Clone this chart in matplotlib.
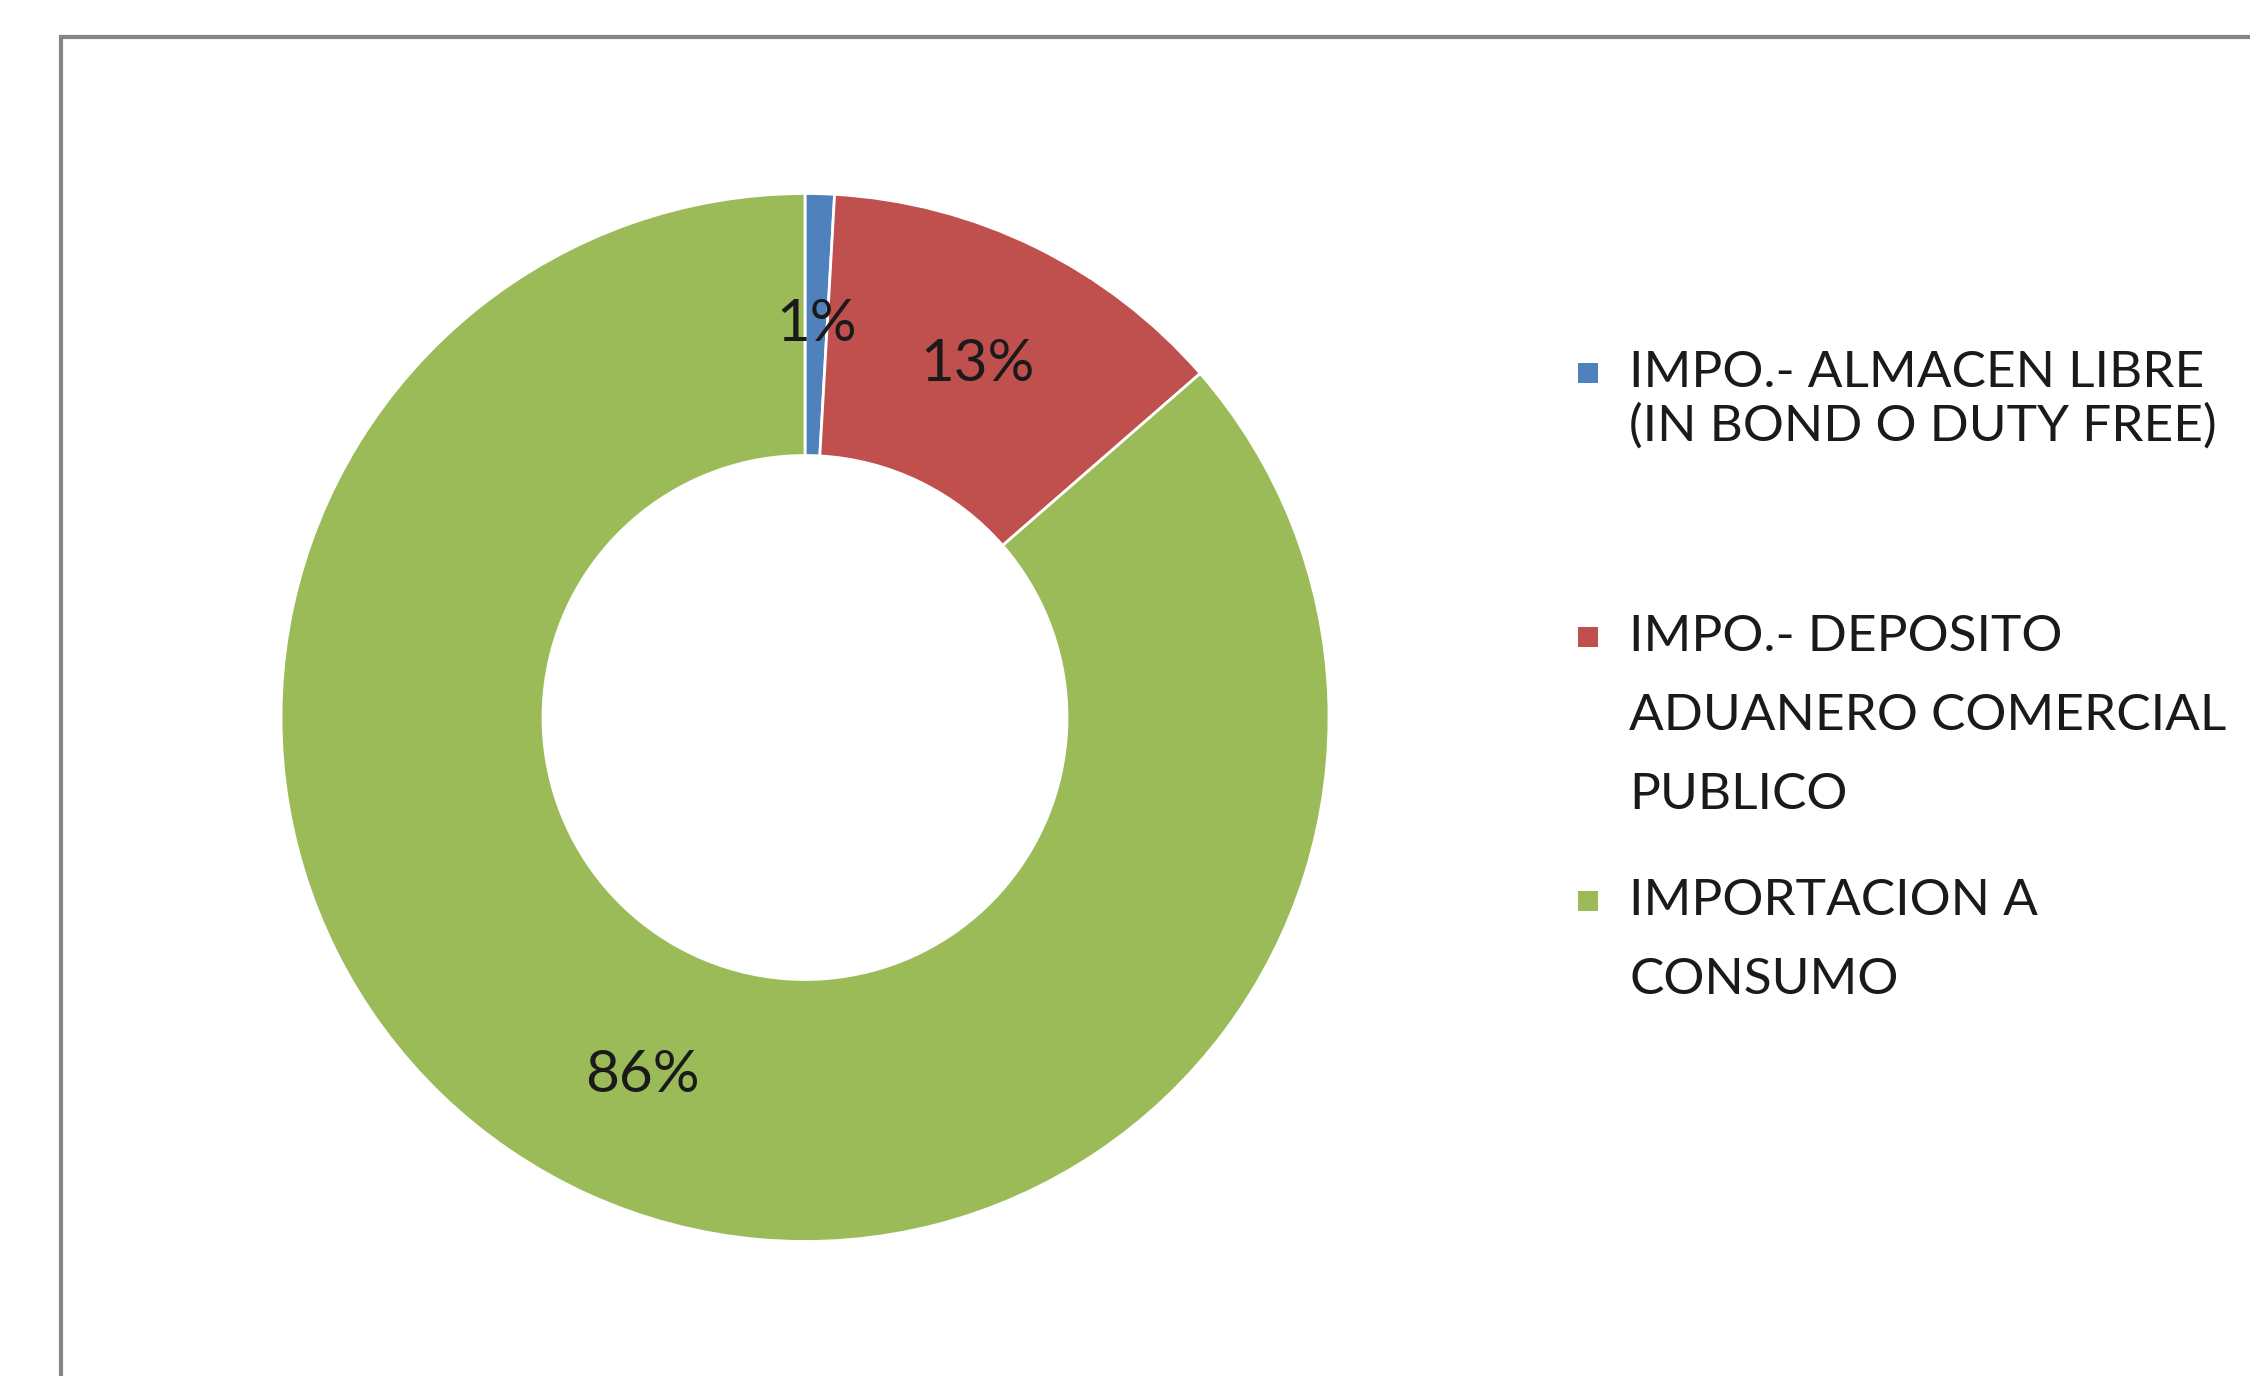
import matplotlib.pyplot as plt
from matplotlib.patches import Rectangle

categories = ["IMPO.- ALMACEN LIBRE\n(IN BOND O DUTY FREE)",
              "IMPO.- DEPOSITO\nADUANERO COMERCIAL\nPUBLICO",
              "IMPORTACION A\nCONSUMO"]
values = [0.9, 12.7, 86.4]
colors = ["#4F81BD", "#C0504D", "#9BBB59"]

plt.rcParams['font.family'] = ['Lato', 'DejaVu Sans']

W, H = 2250, 1376
fig = plt.figure(figsize=(W / 100, H / 100), dpi=100)

# chart frame (cut off on right and bottom like the screenshot)
fig.patches.append(Rectangle((61 / W, -0.1), 1.2, 1 - 37 / H + 0.1,
                             transform=fig.transFigure, fill=False,
                             edgecolor="#858585", linewidth=3))

cx, cy, r = 805, 717.5, 524
ax = fig.add_axes([(cx - r) / W, 1 - (cy + r) / H, 2 * r / W, 2 * r / H])
wedges, texts, autotexts = ax.pie(
    values, colors=colors, startangle=90, counterclock=False, radius=1,
    autopct=lambda p: "%.0f%%" % p, pctdistance=0.75,
    wedgeprops=dict(width=0.5, edgecolor="white", linewidth=2),
    textprops=dict(fontsize=42, color="#1a1a1a"))
ax.set_xlim(-1, 1)
ax.set_ylim(-1, 1)
ax.set_aspect("equal")
ax.axis("off")

# legend drawn by hand to follow the uneven spacing of the original
entry_y = [373, 637, 901]       # first-line centres, px from top
line_gap = [53, 79, 79]
for name, col, y0, gap in zip(categories, colors, entry_y, line_gap):
    fig.patches.append(Rectangle((1578 / W, 1 - (y0 + 10) / H), 20 / W, 20 / H,
                                 transform=fig.transFigure, facecolor=col,
                                 edgecolor="none"))
    for i, line in enumerate(name.split("\n")):
        fig.text(1629 / W, 1 - (y0 + i * gap) / H, line, fontsize=37,
                 color="#1a1a1a", va="center", ha="left")

fig.savefig("out.png", dpi=100, facecolor="white")
